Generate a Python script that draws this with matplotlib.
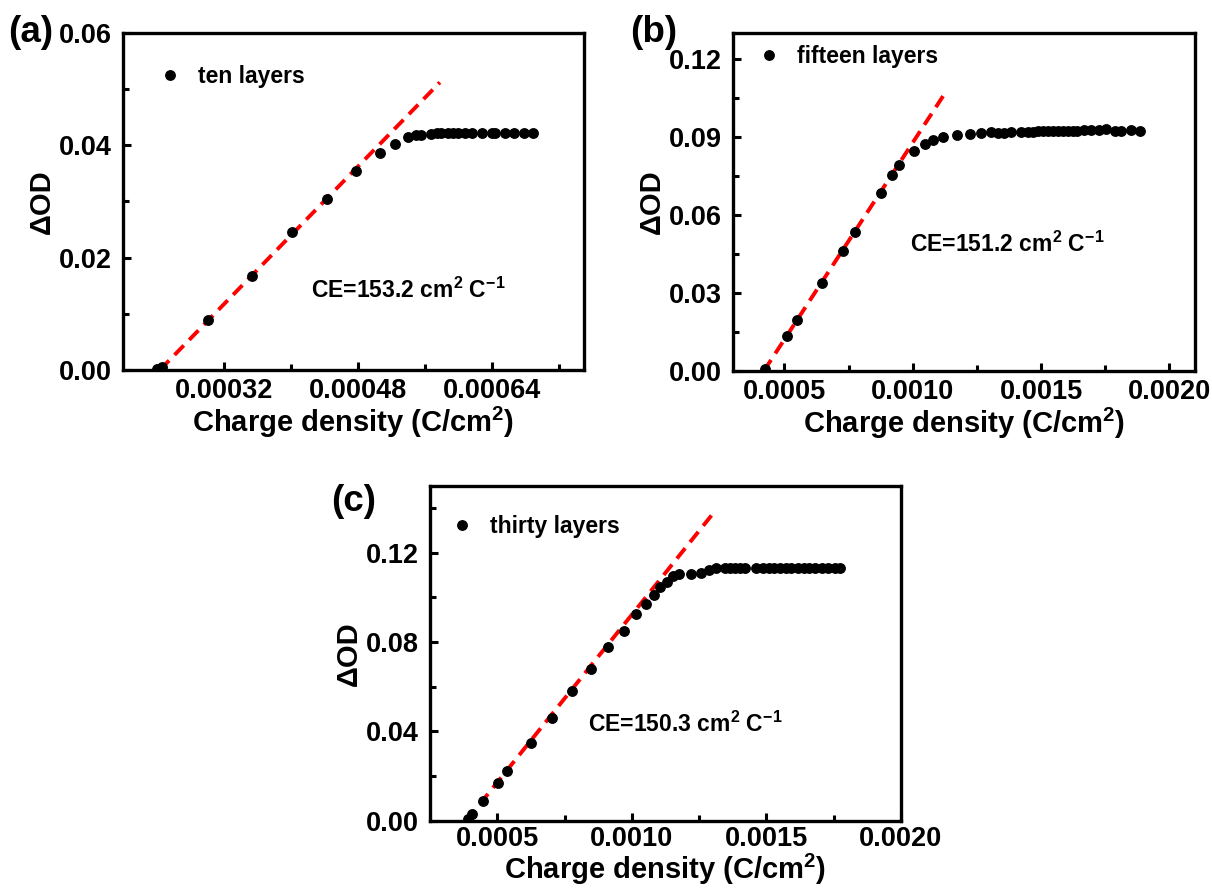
import matplotlib
matplotlib.use('Agg')
import matplotlib.pyplot as plt
from matplotlib.ticker import MultipleLocator, FormatStrFormatter

plt.rcParams['font.family'] = ['Liberation Sans', 'DejaVu Sans']
plt.rcParams['font.weight'] = 'bold'
plt.rcParams['mathtext.fontset'] = 'custom'
plt.rcParams['mathtext.rm'] = 'Liberation Sans:bold'
plt.rcParams['mathtext.bf'] = 'Liberation Sans:bold'
plt.rcParams['mathtext.it'] = 'Liberation Sans:bold'

# (a) ten layers
xa = [0.000240, 0.000247, 0.000301, 0.000354, 0.000402, 0.000443, 0.000478, 0.000506, 0.000525,
      0.000540, 0.000550, 0.000556, 0.000568, 0.000574, 0.000579, 0.000588, 0.000594, 0.000600,
      0.000608, 0.000616, 0.000628, 0.000640, 0.000644, 0.000656, 0.000666, 0.000678, 0.000689]
ya = [0.0001, 0.0006, 0.0089, 0.0168, 0.0246, 0.0304, 0.0354, 0.0386, 0.0402,
      0.0414, 0.0418, 0.0419, 0.0420, 0.0421, 0.0422, 0.0422, 0.0422, 0.0422,
      0.0422, 0.0422, 0.0422, 0.0422, 0.0422, 0.0422, 0.0422, 0.0422, 0.0422]
fit_xa = [0.000244, 0.000578]
fit_ya = [0.0, 0.0512]

# (b) fifteen layers
xb = [0.000425, 0.000509, 0.000550, 0.000645, 0.000727, 0.000775, 0.000875, 0.000919, 0.000945, 0.001006,
      0.001049, 0.001080, 0.001117, 0.001171, 0.001222, 0.001265, 0.001304, 0.001334, 0.001357, 0.001383,
      0.001422, 0.001448, 0.001467, 0.001487, 0.001506, 0.001526, 0.001545, 0.001565, 0.001584, 0.001604,
      0.001623, 0.001642, 0.001666, 0.001694, 0.001727, 0.001753, 0.001788, 0.001811, 0.001852, 0.001886]
yb = [0.0009, 0.0133, 0.0197, 0.0337, 0.0462, 0.0536, 0.0686, 0.0753, 0.0794, 0.0845,
      0.0873, 0.0890, 0.0902, 0.0906, 0.0911, 0.0915, 0.0921, 0.0917, 0.0917, 0.0920,
      0.0920, 0.0921, 0.0921, 0.0922, 0.0922, 0.0922, 0.0923, 0.0923, 0.0923, 0.0924,
      0.0924, 0.0924, 0.0928, 0.0927, 0.0927, 0.0930, 0.0925, 0.0925, 0.0928, 0.0922]
fit_xb = [0.000420, 0.001128]
fit_yb = [0.0, 0.1072]

# (c) thirty layers
xc = [0.000392, 0.000405, 0.000448, 0.000504, 0.000537, 0.000625, 0.000704, 0.000778, 0.000848, 0.000912,
      0.000970, 0.001016, 0.001053, 0.001082, 0.001104, 0.001132, 0.001153, 0.001176, 0.001219, 0.001256,
      0.001287, 0.001314, 0.001345, 0.001364, 0.001382, 0.001401, 0.001420, 0.001460, 0.001488, 0.001509,
      0.001527, 0.001549, 0.001572, 0.001593, 0.001618, 0.001639, 0.001660, 0.001679, 0.001708, 0.001729,
      0.001754, 0.001775]
yc = [0.0007, 0.0029, 0.0088, 0.0169, 0.0224, 0.0349, 0.0459, 0.0582, 0.0678, 0.0777,
      0.0851, 0.0924, 0.0971, 0.1009, 0.1046, 0.1071, 0.1096, 0.1105, 0.1107, 0.1112,
      0.1125, 0.1130, 0.1130, 0.1130, 0.1130, 0.1131, 0.1131, 0.1132, 0.1133, 0.1133,
      0.1133, 0.1134, 0.1134, 0.1134, 0.1134, 0.1134, 0.1134, 0.1134, 0.1133, 0.1133,
      0.1133, 0.1133]
fit_xc = [0.000386, 0.001300]
fit_yc = [0.0, 0.1374]

labels = ['ten layers', 'fifteen layers', 'thirty layers']
ce_values = ['153.2', '151.2', '150.3']
panel_tags = ['(a)', '(b)', '(c)']

fig = plt.figure(figsize=(12.12, 8.90), dpi=100)

panels = [
    dict(rect=[0.1015, 0.5843, 0.3804, 0.3787], x=xa, y=ya, fx=fit_xa, fy=fit_ya,
         xlim=(0.0002, 0.00075), ylim=(0, 0.06), xmaj=0.00016, xmin=0.00008, xfmt='%.5f',
         ymaj=0.02, ymin=0.01, leg=(0.077, 0.87), ce=(0.407, 0.214), tag=(31, 42),
         xpad=6, lpad=0),
    dict(rect=[0.6048, 0.5831, 0.3812, 0.3798], x=xb, y=yb, fx=fit_xb, fy=fit_yb,
         xlim=(0.0003, 0.0021), ylim=(0, 0.13), xmaj=0.0005, xmin=0.00025, xfmt='%.4f',
         ymaj=0.03, ymin=0.015, leg=(0.053, 0.93), ce=(0.383, 0.353), tag=(654, 42),
         xpad=6, lpad=0),
    dict(rect=[0.3548, 0.0780, 0.3886, 0.3760], x=xc, y=yc, fx=fit_xc, fy=fit_yc,
         xlim=(0.00025, 0.0020001), ylim=(0, 0.15), xmaj=0.0005, xmin=0.00025, xfmt='%.4f',
         ymaj=0.04, ymin=0.02, leg=(0.044, 0.878), ce=(0.336, 0.265), tag=(354, 511),
         xpad=4, lpad=0),
]

for i, p in enumerate(panels):
    ax = fig.add_axes(p['rect'])
    ax.plot(p['x'], p['y'], 'o', color='black', ms=6.8, label=labels[i], zorder=3)
    ax.plot(p['fx'], p['fy'], color='#ff0000', lw=2.8, dashes=(3.4, 2.0), zorder=2)
    ax.set_xlim(*p['xlim'])
    ax.set_ylim(*p['ylim'])
    ax.xaxis.set_major_locator(MultipleLocator(p['xmaj']))
    ax.xaxis.set_minor_locator(MultipleLocator(p['xmin']))
    ax.yaxis.set_major_locator(MultipleLocator(p['ymaj']))
    ax.yaxis.set_minor_locator(MultipleLocator(p['ymin']))
    ax.xaxis.set_major_formatter(FormatStrFormatter(p['xfmt']))
    ax.yaxis.set_major_formatter(FormatStrFormatter('%.2f'))
    ax.tick_params(which='both', direction='in', top=False, right=False, width=2.2)
    ax.tick_params(which='major', length=6, labelsize=19.5)
    ax.tick_params(which='minor', length=4.5)
    ax.tick_params(axis='x', which='major', pad=p['xpad'])
    ax.tick_params(axis='y', which='major', pad=8)
    for s in ax.spines.values():
        s.set_linewidth(2.4)
    ax.set_xlabel('Charge density (C/cm$^{2}$)', fontsize=21, fontweight='bold', labelpad=p['lpad'])
    ax.set_ylabel('ΔOD', fontsize=21, fontweight='bold', labelpad=2)
    ax.legend(loc='center left', bbox_to_anchor=p['leg'], frameon=False, fontsize=16.5,
              handlelength=1.0, handletextpad=0.72, borderpad=0, borderaxespad=0,
              markerscale=1.0)
    ax.text(p['ce'][0], p['ce'][1], 'CE=' + ce_values[i] + ' cm$^{2}$ C$^{-1}$',
            transform=ax.transAxes, fontsize=16.5, fontweight='bold', va='baseline', ha='left')
    fig.text(p['tag'][0] / 1212, 1 - p['tag'][1] / 890, panel_tags[i], fontsize=26.5,
             fontweight='bold', ha='center', va='baseline')

fig.savefig('out.png', dpi=100)
